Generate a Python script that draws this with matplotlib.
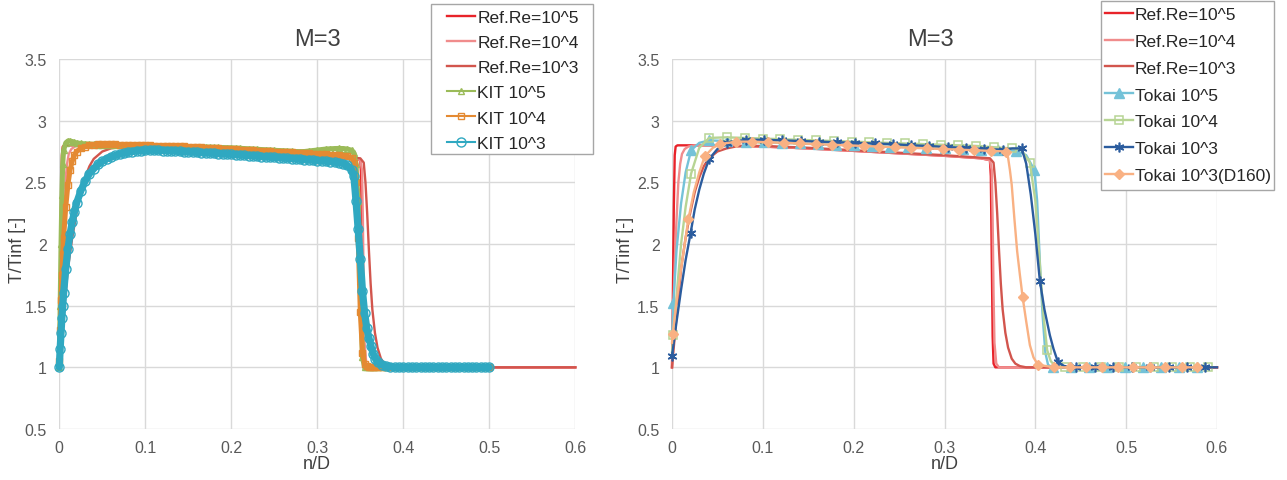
import matplotlib
matplotlib.use("Agg")
import matplotlib.pyplot as plt
from matplotlib.patches import Rectangle
from matplotlib.ticker import MultipleLocator, FuncFormatter

plt.rcParams['font.family'] = ['Liberation Sans', 'DejaVu Sans']

# ---------------- data ----------------
# Reference curves (same in both panels)
ref5_x = [0.0, 0.001, 0.002, 0.003, 0.004, 0.006, 0.05, 0.1, 0.15, 0.2, 0.25, 0.3, 0.34,
          0.350, 0.351, 0.352, 0.353, 0.354, 0.356, 0.6]
ref5_y = [1.0, 1.6, 2.3, 2.72, 2.79, 2.80, 2.80, 2.79, 2.775, 2.755, 2.735, 2.715, 2.695,
          2.68, 2.55, 1.9, 1.25, 1.03, 1.0, 1.0]

ref4_x = [0.0, 0.001, 0.002, 0.003, 0.005, 0.007, 0.009, 0.011, 0.014, 0.018, 0.025, 0.05,
          0.1, 0.15, 0.2, 0.25, 0.3, 0.34, 0.350, 0.352, 0.353, 0.354, 0.355, 0.357, 0.36, 0.6]
ref4_y = [1.0, 1.3, 1.6, 1.85, 2.2, 2.5, 2.65, 2.73, 2.77, 2.79, 2.80, 2.80,
          2.79, 2.775, 2.755, 2.735, 2.715, 2.695, 2.68, 2.6, 2.2, 1.6, 1.2, 1.03, 1.0, 1.0]

ref3_x = [0.0, 0.003, 0.006, 0.01, 0.015, 0.02, 0.025, 0.03, 0.035, 0.04,
          0.05, 0.06, 0.07, 0.08, 0.1, 0.15, 0.2, 0.25, 0.3, 0.35,
          0.354, 0.356, 0.358, 0.36, 0.362, 0.364, 0.367, 0.37, 0.374, 0.378, 0.383, 0.39, 0.6]
ref3_y = [1.0, 1.25, 1.5, 1.8, 2.05, 2.25, 2.42, 2.54, 2.63, 2.69,
          2.75, 2.775, 2.79, 2.795, 2.795, 2.78, 2.76, 2.74, 2.72, 2.695,
          2.66, 2.5, 2.25, 1.95, 1.68, 1.47, 1.28, 1.16, 1.07, 1.03, 1.01, 1.0, 1.0]

# KIT results (left panel)
kit_x = [0.0, 0.001, 0.002, 0.003, 0.004, 0.005, 0.0075, 0.01, 0.0125, 0.015, 0.0175, 0.02,
         0.025, 0.03, 0.035, 0.04, 0.045, 0.05, 0.055, 0.06, 0.065, 0.07, 0.075, 0.08, 0.085, 0.09, 0.095, 0.1,
         0.105, 0.11, 0.115, 0.12, 0.125, 0.13, 0.135, 0.14, 0.145, 0.15, 0.155, 0.16, 0.165, 0.17, 0.175, 0.18,
         0.185, 0.19, 0.195, 0.2,
         0.205, 0.21, 0.215, 0.22, 0.225, 0.23, 0.235, 0.24, 0.245, 0.25, 0.255, 0.26, 0.265, 0.27, 0.275, 0.28,
         0.285, 0.29, 0.295, 0.3,
         0.305, 0.31, 0.315, 0.32, 0.325, 0.33, 0.335, 0.34,
         0.3425, 0.345, 0.3475, 0.35, 0.3525, 0.355, 0.3575, 0.36, 0.3625, 0.365, 0.3675, 0.37,
         0.375, 0.38, 0.385, 0.39, 0.395, 0.4, 0.405, 0.41, 0.415, 0.42, 0.425, 0.43, 0.435, 0.44, 0.445, 0.45,
         0.455, 0.46, 0.465, 0.47, 0.475, 0.48, 0.485, 0.49, 0.495, 0.5]

kit5_y = [1.0, 1.5, 2.0, 2.4, 2.65, 2.76, 2.82, 2.835, 2.835, 2.83, 2.825, 2.82,
          2.815, 2.812, 2.81, 2.808, 2.806, 2.805, 2.804, 2.803, 2.802, 2.801, 2.80, 2.80, 2.80, 2.80, 2.80, 2.80,
          2.799, 2.798, 2.797, 2.796, 2.795, 2.794, 2.793, 2.792, 2.791, 2.79, 2.789, 2.788, 2.787, 2.786, 2.785,
          2.784, 2.783, 2.782, 2.781, 2.78,
          2.778, 2.776, 2.774, 2.772, 2.77, 2.768, 2.766, 2.764, 2.762, 2.76, 2.758, 2.756, 2.754, 2.752, 2.75,
          2.749, 2.75, 2.754, 2.758, 2.762,
          2.766, 2.77, 2.772, 2.774, 2.775, 2.774, 2.77, 2.76,
          2.74, 2.65, 2.35, 1.7, 1.08, 1.0, 1.0, 1.0, 1.0, 1.0, 1.0, 1.0,
          1.0, 1.0, 1.0, 1.0, 1.0, 1.0, 1.0, 1.0, 1.0, 1.0, 1.0, 1.0, 1.0, 1.0, 1.0, 1.0,
          1.0, 1.0, 1.0, 1.0, 1.0, 1.0, 1.0, 1.0, 1.0, 1.0]

kit4_y = [1.05, 1.3, 1.55, 1.75, 1.92, 2.05, 2.3, 2.48, 2.6, 2.67, 2.72, 2.75,
          2.775, 2.79, 2.80, 2.805, 2.807, 2.808, 2.808, 2.808, 2.807, 2.806, 2.805, 2.804, 2.803, 2.802, 2.801, 2.80,
          2.799, 2.798, 2.797, 2.796, 2.795, 2.794, 2.793, 2.792, 2.791, 2.79, 2.788, 2.786, 2.784, 2.782, 2.78,
          2.778, 2.776, 2.774, 2.772, 2.77,
          2.768, 2.766, 2.764, 2.762, 2.76, 2.758, 2.756, 2.754, 2.752, 2.75, 2.748, 2.746, 2.744, 2.742, 2.74,
          2.738, 2.736, 2.734, 2.732, 2.73,
          2.728, 2.726, 2.724, 2.722, 2.72, 2.716, 2.712, 2.70,
          2.66, 2.5, 2.05, 1.45, 1.12, 1.03, 1.01, 1.0, 1.0, 1.0, 1.0, 1.0,
          1.0, 1.0, 1.0, 1.0, 1.0, 1.0, 1.0, 1.0, 1.0, 1.0, 1.0, 1.0, 1.0, 1.0, 1.0, 1.0,
          1.0, 1.0, 1.0, 1.0, 1.0, 1.0, 1.0, 1.0, 1.0, 1.0]

kit3_y = [1.0, 1.15, 1.28, 1.4, 1.5, 1.6, 1.8, 1.96, 2.08, 2.18, 2.26, 2.33,
          2.43, 2.51, 2.57, 2.61, 2.645, 2.67, 2.69, 2.705, 2.718, 2.728, 2.737, 2.744, 2.75, 2.754, 2.757, 2.759,
          2.76, 2.76, 2.759, 2.758, 2.757, 2.755, 2.753, 2.751, 2.749, 2.747, 2.745, 2.743, 2.741, 2.739, 2.737,
          2.735, 2.733, 2.731, 2.729, 2.727,
          2.724, 2.722, 2.719, 2.717, 2.714, 2.712, 2.709, 2.707, 2.704, 2.702, 2.699, 2.697, 2.694, 2.692, 2.689,
          2.687, 2.684, 2.682, 2.679, 2.677,
          2.674, 2.671, 2.668, 2.664, 2.659, 2.652, 2.637, 2.60,
          2.55, 2.35, 2.12, 1.88, 1.62, 1.44, 1.32, 1.24, 1.17, 1.11, 1.07, 1.045,
          1.02, 1.01, 1.005, 1.0, 1.0, 1.0, 1.0, 1.0, 1.0, 1.0, 1.0, 1.0, 1.0, 1.0, 1.0, 1.0,
          1.0, 1.0, 1.0, 1.0, 1.0, 1.0, 1.0, 1.0, 1.0, 1.0]

# Tokai results (right panel)
tk5_x = [0.0, 0.0015, 0.005, 0.01, 0.015, 0.021, 0.03, 0.041, 0.061, 0.081,
         0.101, 0.121, 0.141, 0.161, 0.180, 0.200, 0.220, 0.240, 0.260, 0.280,
         0.300, 0.320, 0.340, 0.359, 0.379, 0.39, 0.399, 0.402, 0.405, 0.408,
         0.411, 0.414, 0.419, 0.439, 0.459, 0.479, 0.499, 0.518, 0.538, 0.558, 0.578]
tk5_y = [1.25, 1.52, 1.95, 2.33, 2.58, 2.76, 2.82, 2.84, 2.835, 2.83,
         2.825, 2.82, 2.815, 2.81, 2.805, 2.80, 2.795, 2.79, 2.785, 2.78,
         2.775, 2.77, 2.765, 2.76, 2.755, 2.72, 2.60, 2.35, 1.85, 1.42,
         1.12, 1.02, 1.0, 1.0, 1.0, 1.0, 1.0, 1.0, 1.0, 1.0, 1.0]

tk4_x = [0.0, 0.0015, 0.005, 0.01, 0.015, 0.021, 0.03, 0.041, 0.060, 0.080,
         0.100, 0.119, 0.139, 0.158, 0.178, 0.198, 0.217, 0.237, 0.256, 0.276,
         0.296, 0.315, 0.335, 0.354, 0.374, 0.385, 0.394, 0.40, 0.403, 0.406,
         0.409, 0.413, 0.417, 0.422, 0.433, 0.452, 0.472, 0.492, 0.511, 0.531,
         0.550, 0.570, 0.590]
tk4_y = [1.12, 1.26, 1.58, 2.0, 2.3, 2.57, 2.78, 2.86, 2.865, 2.86,
         2.855, 2.85, 2.845, 2.84, 2.835, 2.83, 2.825, 2.82, 2.815, 2.81,
         2.805, 2.80, 2.795, 2.785, 2.775, 2.76, 2.66, 2.35, 2.05, 1.72,
         1.42, 1.14, 1.05, 1.01, 1.0, 1.0, 1.0, 1.0, 1.0, 1.0,
         1.0, 1.0, 1.0]

tk3_x = [0.0, 0.005, 0.01, 0.015, 0.0205, 0.025, 0.03, 0.035, 0.041, 0.05,
         0.061, 0.081, 0.101, 0.121, 0.142, 0.162, 0.182, 0.202, 0.223, 0.243,
         0.263, 0.283, 0.304, 0.324, 0.344, 0.364, 0.375, 0.385, 0.39, 0.395,
         0.40, 0.405, 0.41, 0.416, 0.42, 0.425, 0.432, 0.445, 0.466, 0.486,
         0.506, 0.526, 0.547, 0.567, 0.587, 0.6]
tk3_y = [1.09, 1.37, 1.63, 1.87, 2.09, 2.28, 2.44, 2.57, 2.69, 2.77,
         2.82, 2.845, 2.845, 2.84, 2.835, 2.83, 2.825, 2.82, 2.815, 2.81,
         2.80, 2.795, 2.785, 2.78, 2.77, 2.765, 2.775, 2.775, 2.65, 2.40,
         2.08, 1.70, 1.47, 1.26, 1.15, 1.04, 1.01, 1.0, 1.0, 1.0,
         1.0, 1.0, 1.0, 1.0, 1.0, 1.0]

tkd_x = [0.0, 0.0007, 0.005, 0.01, 0.014, 0.018, 0.024, 0.03, 0.036, 0.045,
         0.053, 0.071, 0.088, 0.106, 0.123, 0.141, 0.158, 0.176, 0.193, 0.211,
         0.228, 0.246, 0.263, 0.281, 0.298, 0.316, 0.333, 0.351, 0.368, 0.370,
         0.372, 0.374, 0.377, 0.380, 0.383, 0.386, 0.39, 0.394, 0.398, 0.403,
         0.421, 0.438, 0.456, 0.473, 0.491, 0.508, 0.526, 0.543, 0.561, 0.578]
tkd_y = [1.2, 1.27, 1.53, 1.8, 2.0, 2.2, 2.42, 2.58, 2.71, 2.78,
         2.81, 2.83, 2.83, 2.825, 2.82, 2.815, 2.81, 2.805, 2.80, 2.795,
         2.79, 2.785, 2.78, 2.775, 2.77, 2.765, 2.76, 2.755, 2.75, 2.70,
         2.6, 2.48, 2.2, 1.94, 1.75, 1.57, 1.37, 1.18, 1.08, 1.02,
         1.0, 1.0, 1.0, 1.0, 1.0, 1.0, 1.0, 1.0, 1.0, 1.0]

ref_labels = ["Ref.Re=10^5", "Ref.Re=10^4", "Ref.Re=10^3"]
kit_labels = ["KIT 10^5", "KIT 10^4", "KIT 10^3"]
tokai_labels = ["Tokai 10^5", "Tokai 10^4", "Tokai 10^3", "Tokai 10^3(D160)"]
title_text = "M=3"
x_label = "n/D"
y_label = "T/Tinf [-]"

# ---------------- style ----------------
C_REF5, C_REF4, C_REF3 = "#e8232a", "#f08c8c", "#d2554d"
C_KIT5, C_KIT4, C_KIT3 = "#9bbb59", "#e48a32", "#2fa8c1"
C_TK5, C_TK4, C_TK3, C_TKD = "#74c2d8", "#b7d494", "#2b5c9e", "#f9b183"

# marker positions (indices) for the Tokai series
tk5_marks = [1, 5] + list(range(7, 25)) + [26] + list(range(32, 41))
tk4_marks = [1, 5] + list(range(7, 25)) + [26, 31] + list(range(34, 43))
tk3_marks = [0, 4, 8] + list(range(10, 26)) + [27, 31, 35] + list(range(37, 45))
tkd_marks = [1, 5, 8] + list(range(10, 29)) + [35, 39] + list(range(40, 50))

W, H = 1287, 481
fig = plt.figure(figsize=(W / 100, H / 100), dpi=100)


def fx(px):
    return px / W


def fy(py):
    return 1 - py / H


ax1 = fig.add_axes([fx(59.3), fy(430), fx(575.3) - fx(59.3), fy(60) - fy(430)])
ax2 = fig.add_axes([fx(672), fy(430), fx(1217) - fx(672), fy(60) - fy(430)])

fmt = FuncFormatter(lambda v, p: "%g" % round(v, 3))
for ax in (ax1, ax2):
    ax.set_xlim(0, 0.6)
    ax.set_ylim(0.5, 3.5)
    ax.xaxis.set_major_locator(MultipleLocator(0.1))
    ax.yaxis.set_major_locator(MultipleLocator(0.5))
    ax.xaxis.set_major_formatter(fmt)
    ax.yaxis.set_major_formatter(fmt)
    ax.grid(True, color="#d9d9d9", linewidth=1.0)
    ax.set_axisbelow(True)
    for s in ax.spines.values():
        s.set_visible(False)
    ax.tick_params(axis="both", length=0, labelsize=11.5, labelcolor="#595959")
    ax.tick_params(axis="x", pad=8)
    ax.tick_params(axis="y", pad=9)

LW = 1.7
ref_handles = []
for ax in (ax1, ax2):
    h5, = ax.plot(ref5_x, ref5_y, color=C_REF5, lw=LW, clip_on=False, label=ref_labels[0])
    h4, = ax.plot(ref4_x, ref4_y, color=C_REF4, lw=LW, clip_on=False, label=ref_labels[1])
    h3, = ax.plot(ref3_x, ref3_y, color=C_REF3, lw=LW, clip_on=False, label=ref_labels[2])
    ref_handles.append([h5, h4, h3])

# KIT: dense markers forming a band (thick underlay + open markers)
kit_series = [
    (kit5_y, C_KIT5, "^", 5.0, 3.6, kit_labels[0]),
    (kit4_y, C_KIT4, "s", 4.5, 3.6, kit_labels[1]),
    (kit3_y, C_KIT3, "o", 6.5, 5.2, kit_labels[2]),
]
kit_handles = []
for ys, col, mk, ms, band, lab in kit_series:
    ax1.plot(kit_x, ys, color=col, lw=band, solid_capstyle="round", clip_on=False)
    h, = ax1.plot(kit_x, ys, color=col, lw=1.5, marker=mk, ms=ms, mfc="none", mew=1.0,
                  clip_on=False, label=lab)
    kit_handles.append(h)

t5, = ax2.plot(tk5_x, tk5_y, color=C_TK5, lw=LW, marker="^", ms=7, markevery=tk5_marks,
               clip_on=False, label=tokai_labels[0])
t4, = ax2.plot(tk4_x, tk4_y, color=C_TK4, lw=LW, marker="s", ms=6, mfc="none", mew=1.1,
               markevery=tk4_marks, clip_on=False, label=tokai_labels[1])
t3, = ax2.plot(tk3_x, tk3_y, color=C_TK3, lw=LW, marker=(6, 2, 0), ms=7, mew=1.2,
               markevery=tk3_marks, clip_on=False, label=tokai_labels[2])
td, = ax2.plot(tkd_x, tkd_y, color=C_TKD, lw=LW, marker="D", ms=5, markevery=tkd_marks,
               clip_on=False, label=tokai_labels[3])

# titles and axis labels
for cx in (317, 930):
    fig.text(fx(cx), fy(40), title_text, ha="center", va="center", fontsize=17, color="#404040")
for cx in (317, 945):
    fig.text(fx(cx), fy(465), x_label, ha="center", va="center", fontsize=13, color="#404040")
for cx in (18, 625):
    fig.text(fx(cx), fy(250), y_label, ha="center", va="center", fontsize=13, color="#404040",
             rotation=90)

# legends with rectangular frames
fig.add_artist(Rectangle((fx(431), fy(155)), fx(593.3) - fx(431), fy(5) - fy(155),
                         transform=fig.transFigure, facecolor="white", edgecolor="#a6a6a6",
                         lw=1.0, zorder=4))
fig.legend(handles=ref_handles[0] + kit_handles, loc="upper left",
           bbox_to_anchor=(fx(446.5), fy(10.5)), frameon=False, borderpad=0, borderaxespad=0,
           fontsize=12.5, handlelength=1.65, handletextpad=0.12, labelspacing=0.58,
           labelcolor="#262626").set_zorder(5)

fig.add_artist(Rectangle((fx(1101), fy(191)), fx(1274) - fx(1101), fy(2) - fy(191),
                         transform=fig.transFigure, facecolor="white", edgecolor="#a6a6a6",
                         lw=1.0, zorder=4))
fig.legend(handles=ref_handles[1] + [t5, t4, t3, td], loc="upper left",
           bbox_to_anchor=(fx(1105), fy(7.5)), frameon=False, borderpad=0, borderaxespad=0,
           fontsize=12.5, handlelength=1.6, handletextpad=0.12, labelspacing=0.68,
           labelcolor="#262626").set_zorder(5)

fig.savefig("out.png", dpi=100)
